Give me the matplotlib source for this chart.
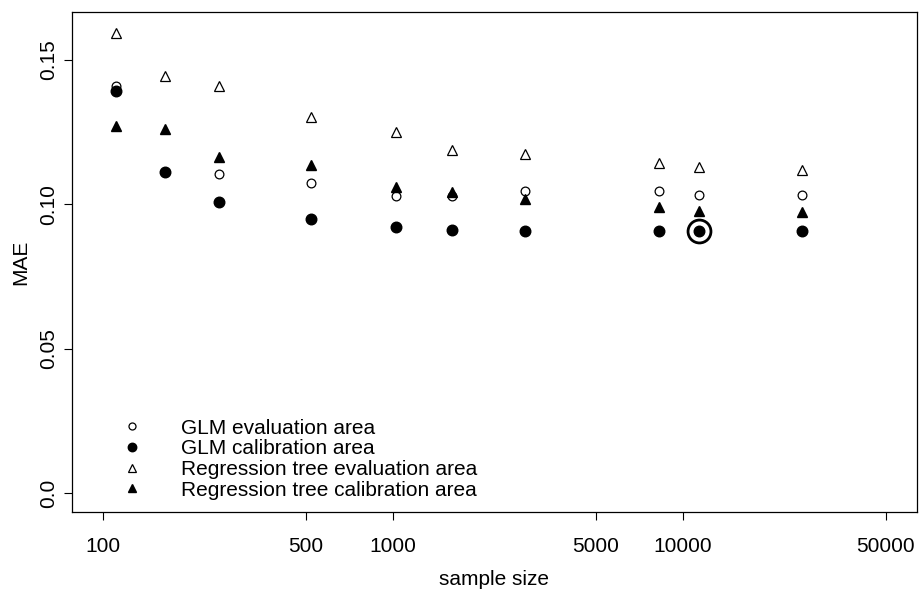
# MAE vs sample size, GLM and regression tree, evaluation and calibration area
import numpy as np
import matplotlib
matplotlib.use("Agg")
import matplotlib.pyplot as plt

plt.rcParams["font.family"] = ["Liberation Sans", "DejaVu Sans"]

# values
sample_size = [111, 163, 252, 520, 1024, 1598, 2843, 8240, 11380, 25720]
glm_eval = [0.1410, 0.1110, 0.1103, 0.1075, 0.1028, 0.1028, 0.1046, 0.1046, 0.1031, 0.1031]
glm_cal = [0.1390, 0.1110, 0.1007, 0.0948, 0.0920, 0.0911, 0.0909, 0.0909, 0.0906, 0.0906]
rt_eval = [0.1593, 0.1444, 0.1409, 0.1303, 0.1250, 0.1188, 0.1173, 0.1143, 0.1130, 0.1118]
rt_cal = [0.1271, 0.1259, 0.1162, 0.1136, 0.1060, 0.1043, 0.1018, 0.0989, 0.0977, 0.0973]
best_idx = 8  # circled point

xticks = [100, 500, 1000, 5000, 10000, 50000]
yticks = [0.0, 0.05, 0.10, 0.15]
ytick_labels = ["0.0", "0.05", "0.10", "0.15"]

fig = plt.figure(figsize=(9.19, 5.93), dpi=100)
ax = fig.add_axes([0.078, 0.137, 0.9198, 0.8423])

ax.plot(sample_size, glm_eval, ls="none", marker="o", ms=6.3, mfc="white", mec="black",
        mew=0.9, label="GLM evaluation area")
ax.plot(sample_size, glm_cal, ls="none", marker="o", ms=7.6, mfc="black", mec="black",
        label="GLM calibration area")
ax.plot(sample_size, rt_eval, ls="none", marker="^", ms=7.2, mfc="white", mec="black",
        mew=0.9, label="Regression tree evaluation area")
ax.plot(sample_size, rt_cal, ls="none", marker="^", ms=7.2, mfc="black", mec="black",
        label="Regression tree calibration area")
ax.plot(sample_size[best_idx], glm_cal[best_idx], ls="none", marker="o", ms=16.5,
        mfc="none", mec="black", mew=2)

ax.set_xscale("log")
lo, hi = np.log10(100), np.log10(50000)
pad = (hi - lo) * 0.04
ax.set_xlim(10 ** (lo - pad), 10 ** (hi + pad))
ax.set_ylim(-0.0064, 0.1664)

ax.set_xticks(xticks)
ax.set_xticklabels([str(t) for t in xticks])
ax.xaxis.set_minor_locator(matplotlib.ticker.NullLocator())
ax.set_yticks(yticks)
ax.set_yticklabels(ytick_labels, rotation=90, va="center")

ax.tick_params(axis="both", direction="out", length=6, width=0.8, labelsize=15,
               colors="black")
ax.tick_params(axis="x", pad=12)
ax.tick_params(axis="y", pad=4)
for s in ax.spines.values():
    s.set_linewidth(0.9)

ax.set_xlabel("sample size", fontsize=15, labelpad=10)
ax.set_ylabel("MAE", fontsize=15, labelpad=6)

ax.legend(loc="lower left", bbox_to_anchor=(0.042, -0.005), frameon=False, fontsize=15,
          handlelength=1.0, handletextpad=1.85, labelspacing=0.08, markerscale=0.8,
          borderpad=0.2)

fig.savefig("out.png", dpi=100)
